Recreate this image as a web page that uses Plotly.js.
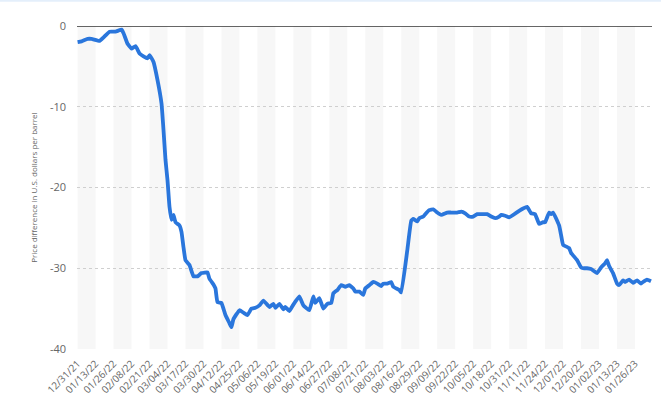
<!DOCTYPE html>
<html>
<head>
<meta charset="utf-8">
<script src="https://cdn.plot.ly/plotly-3.0.1.min.js"></script>
<style>html,body{margin:0;padding:0;background:#fff;}#chart{width:661px;height:413px;}</style>
</head>
<body>
<div id="chart"></div>
<script>
// Trading-day index (0 = 12/31/21) and price difference (USD per barrel)
const dayIndex = [0,2,5,7,11,13,16,19,22,23,25,27,29,31,33,35,36,38,40,42,43,44,45,46,47,48,49,51,52,53,54,56,58,60,62,65,66,68,69,70,72,74,76,77,78,81,83,85,87,89,91,93,96,98,99,101,103,104,106,108,111,113,116,118,119,121,123,125,127,128,130,132,134,136,138,139,141,143,144,146,148,150,152,153,155,157,158,161,162,165,167,168,170,171,173,174,176,178,180,182,185,187,190,192,194,196,198,200,203,205,207,209,211,212,214,216,218,221,223,225,227,229,231,233,234,236,237,238,241,242,243,246,247,250,252,253,255,257,260,262,264,265,266,268,270,271,273,274,276,278,280,282,283,285,287];
const priceDiff = [-2.0,-1.9,-1.6,-1.6,-1.85,-1.4,-0.7,-0.7,-0.45,-0.9,-2.2,-2.8,-2.5,-3.4,-3.75,-4.0,-3.6,-4.45,-6.7,-9.6,-12.9,-16.6,-19.1,-22.4,-24.0,-23.4,-24.3,-24.7,-25.5,-27.4,-29.0,-29.6,-31.0,-31.0,-30.6,-30.5,-31.3,-32.0,-32.5,-34.2,-34.3,-35.8,-36.8,-37.3,-36.3,-35.2,-35.5,-35.8,-35.0,-34.9,-34.6,-34.0,-34.8,-34.4,-34.9,-34.4,-35.1,-34.8,-35.3,-34.5,-33.5,-34.6,-35.2,-33.5,-34.3,-33.7,-35.0,-34.4,-34.3,-33.1,-32.7,-32.1,-32.3,-32.1,-32.5,-32.9,-32.9,-33.3,-32.5,-32.1,-31.7,-31.9,-32.2,-31.9,-31.9,-31.7,-32.3,-32.7,-33.0,-27.8,-24.1,-23.9,-24.2,-23.8,-23.6,-23.3,-22.8,-22.7,-23.1,-23.4,-23.1,-23.1,-23.1,-23.0,-23.2,-23.6,-23.6,-23.3,-23.3,-23.3,-23.6,-23.8,-23.6,-23.4,-23.5,-23.7,-23.4,-22.9,-22.6,-22.4,-23.2,-23.3,-24.5,-24.3,-24.3,-23.1,-23.3,-23.1,-24.7,-25.9,-27.1,-27.5,-28.1,-29.0,-29.9,-30.0,-30.0,-30.1,-30.6,-29.9,-29.4,-29.0,-29.7,-30.6,-31.9,-32.1,-31.5,-31.7,-31.4,-31.8,-31.5,-31.9,-31.7,-31.4,-31.6];
const tickLabels = ["12/31/21","01/13/22","01/26/22","02/08/22","02/21/22","03/04/22","03/17/22","03/30/22","04/12/22","04/25/22","05/06/22","05/19/22","06/01/22","06/14/22","06/27/22","07/08/22","07/21/22","08/03/22","08/16/22","08/29/22","09/09/22","09/22/22","10/05/22","10/18/22","10/31/22","11/11/22","11/24/22","12/07/22","12/20/22","01/02/23","01/13/23","01/26/23"];
const tickStep = 9;
const tickPositions = tickLabels.map((_, i) => i * tickStep);

const shapes = [];
tickPositions.forEach((p, i) => {
  if (i % 2 === 0) {
    shapes.push({type:'rect', xref:'x', yref:'paper', x0:p, x1:p + tickStep, y0:0, y1:1,
      fillcolor:'#f7f7f7', line:{width:0}, layer:'below'});
  }
});
shapes.push({type:'line', xref:'paper', yref:'y', x0:0, x1:1, y0:0, y1:0, line:{color:'#333', width:1.5}});
shapes.push({type:'rect', xref:'paper', yref:'paper', x0:-0.2, x1:1.05, y0:1.075, y1:1.085, fillcolor:'#e4effb', line:{width:0}});

const trace = {
  x: dayIndex, y: priceDiff, type:'scatter', mode:'lines',
  line:{color:'#2a76dc', width:3.8, shape:'spline', smoothing:0.3},
  hoverinfo:'skip'
};

const layout = {
  width:661, height:413,
  margin:{l:77, r:9, t:26, b:64},
  paper_bgcolor:'#fff', plot_bgcolor:'#fff',
  showlegend:false,
  font:{family:'"Open Sans", sans-serif', color:'#666'},
  xaxis:{
    range:[-0.3, 287.5], tickmode:'array', tickvals:tickPositions, ticktext:tickLabels,
    tickangle:-45, tickfont:{size:10, color:'#666'}, showgrid:false, zeroline:false,
    showline:false, ticks:'', ticklabelstandoff:6, fixedrange:true
  },
  yaxis:{
    range:[-40, 0], tickvals:[0,-10,-20,-30,-40], ticktext:['0','-10','-20','-30','-40'],
    tickfont:{size:11, color:'#666'}, showgrid:true, gridcolor:'#cfcfcf', griddash:'dot', gridwidth:1,
    zeroline:false, showline:false, ticks:'', ticklabelstandoff:10, fixedrange:true
  },
  shapes:shapes,
  annotations:[{
    text:'Price difference in U.S. dollars per barrel', xref:'paper', yref:'paper',
    x:-0.076, y:0.5, textangle:-90, showarrow:false, font:{size:8, color:'#666'},
    xanchor:'center', yanchor:'middle'
  }]
};

Plotly.newPlot('chart', [trace], layout, {displayModeBar:false, staticPlot:true});
</script>
</body>
</html>
